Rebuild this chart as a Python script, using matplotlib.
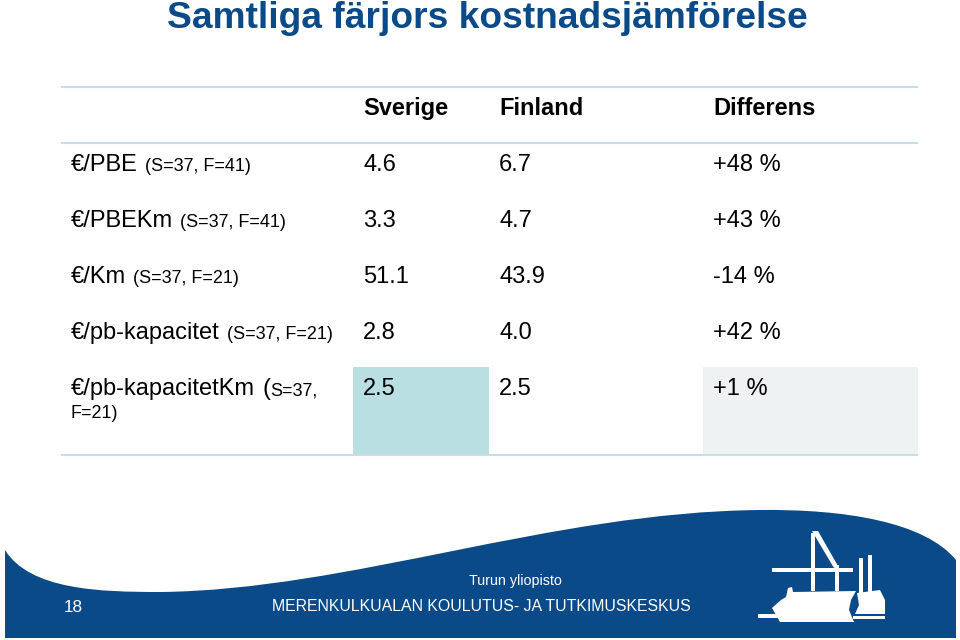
import matplotlib
matplotlib.use("Agg")
import matplotlib.pyplot as plt
from matplotlib.path import Path
from matplotlib.patches import PathPatch, Polygon, Rectangle

title = "Samtliga färjors kostnadsjämförelse"
columns = ["Sverige", "Finland", "Differens"]
measures = ["€/PBE", "€/PBEKm", "€/Km", "€/pb-kapacitet", "€/pb-kapacitetKm"]
samples = ["(S=37, F=41)", "(S=37, F=41)", "(S=37, F=21)", "(S=37, F=21)", "(S=37, F=21)"]
sverige = [4.6, 3.3, 51.1, 2.8, 2.5]
finland = [6.7, 4.7, 43.9, 4.0, 2.5]
differens = ["+48 %", "+43 %", "-14 %", "+42 %", "+1 %"]
page_no = "18"
footer_org = "Turun yliopisto"
footer_dept = "MERENKULKUALAN KOULUTUS- JA TUTKIMUSKESKUS"

plt.rcParams["font.family"] = ["Liberation Sans", "DejaVu Sans"]
BLUE = "#0b4a88"
LINE = "#c9dde5"

fig = plt.figure(figsize=(9.6, 6.4), dpi=100)
ax = fig.add_axes([0, 0, 1, 1])
ax.set_xlim(0, 960)
ax.set_ylim(640, 0)
ax.axis("off")

ax.text(487, 28, title, ha="center", va="baseline", fontsize=26.7,
        fontweight="bold", color=BLUE)

# table geometry
x_label = 71
col_x = [363, 499, 713]
header_base = 115
row_base = [171 + 56 * i for i in range(len(measures))]

# highlighted last row cells
top = row_base[-1] - 28
ax.add_patch(Rectangle((353, top), 136, 455 - top, color="#b9dfe2", lw=0))
ax.add_patch(Rectangle((703, top), 215, 455 - top, color="#eef2f3", lw=0))

ax.hlines([87, 143, 455], 61, 918, color=LINE, lw=1.5)

for x, name in zip(col_x, columns):
    ax.text(x, header_base, name, fontsize=17, fontweight="bold",
            va="baseline", color="black")

fig.canvas.draw()
renderer = fig.canvas.get_renderer()
inv = ax.transData.inverted()

for i, (m, s) in enumerate(zip(measures, samples)):
    y = row_base[i]
    t = ax.text(x_label, y, m, fontsize=17, va="baseline")
    bb = t.get_window_extent(renderer)
    x_end = inv.transform((bb.x1, bb.y0))[0] + 7
    st = ax.text(x_end, y, s, fontsize=13, va="baseline")
    sb = st.get_window_extent(renderer)
    if inv.transform((sb.x1, sb.y0))[0] > 345:
        # too long for the label column: wrap like the slide does
        st.remove()
        first, second = s.split(", ")
        ax.text(x_end, y, "(", fontsize=17, va="baseline")
        ax.text(x_end + 8, y, first[1:] + ",", fontsize=13, va="baseline")
        ax.text(x_label, y + 23, second, fontsize=13, va="baseline")
    ax.text(col_x[0], y, f"{sverige[i]:.1f}", fontsize=17, va="baseline")
    ax.text(col_x[1], y, f"{finland[i]:.1f}", fontsize=17, va="baseline")
    ax.text(col_x[2], y, differens[i], fontsize=17, va="baseline")

# footer wave
verts = [(5, 550),
         (30, 590), (100, 592), (160, 592),
         (350, 590), (550, 512), (760, 510),
         (845, 509), (925, 522), (956, 560),
         (956, 638), (5, 638), (5, 550)]
codes = ([Path.MOVETO] + [Path.CURVE4] * 9
         + [Path.LINETO] * 2 + [Path.CLOSEPOLY])
ax.add_patch(PathPatch(Path(verts, codes), facecolor=BLUE, lw=0))

ax.text(515, 585, footer_org, ha="center", va="baseline", fontsize=10.3,
        color="white")
ax.text(481, 611, footer_dept, ha="center", va="baseline", fontsize=11.4,
        color="white")
ax.text(73.5, 612, page_no, ha="center", va="baseline", fontsize=12.3,
        color="white")

# logo
W = "white"
ax.add_patch(Rectangle((811, 533), 3.5, 58, color=W, lw=0))
ax.add_patch(Polygon([(812, 531), (818, 531), (838, 566), (834, 568)], color=W, lw=0))
ax.add_patch(Rectangle((835, 565), 3.5, 26, color=W, lw=0))
ax.add_patch(Rectangle((772, 568), 81, 3.5, color=W, lw=0))
ax.add_patch(Rectangle((859, 558), 3.5, 35, color=W, lw=0))
ax.add_patch(Rectangle((868, 555), 3.5, 38, color=W, lw=0))
ax.add_patch(Polygon([(772, 608), (781, 600), (786, 597), (788, 588), (792, 587),
                      (793, 592), (856, 591), (851, 600), (849, 610),
                      (854, 622), (780, 622)], color=W, lw=0))
ax.add_patch(Polygon([(857, 593), (880, 590), (885, 600), (885, 614),
                      (855, 614), (859, 605)], color=W, lw=0))
ax.add_patch(Rectangle((853, 616), 32, 2.5, color=W, lw=0))
ax.add_patch(Polygon([(758, 614), (776, 614), (778, 618), (758, 618)], color=W, lw=0))

fig.savefig("out.png", dpi=100)
